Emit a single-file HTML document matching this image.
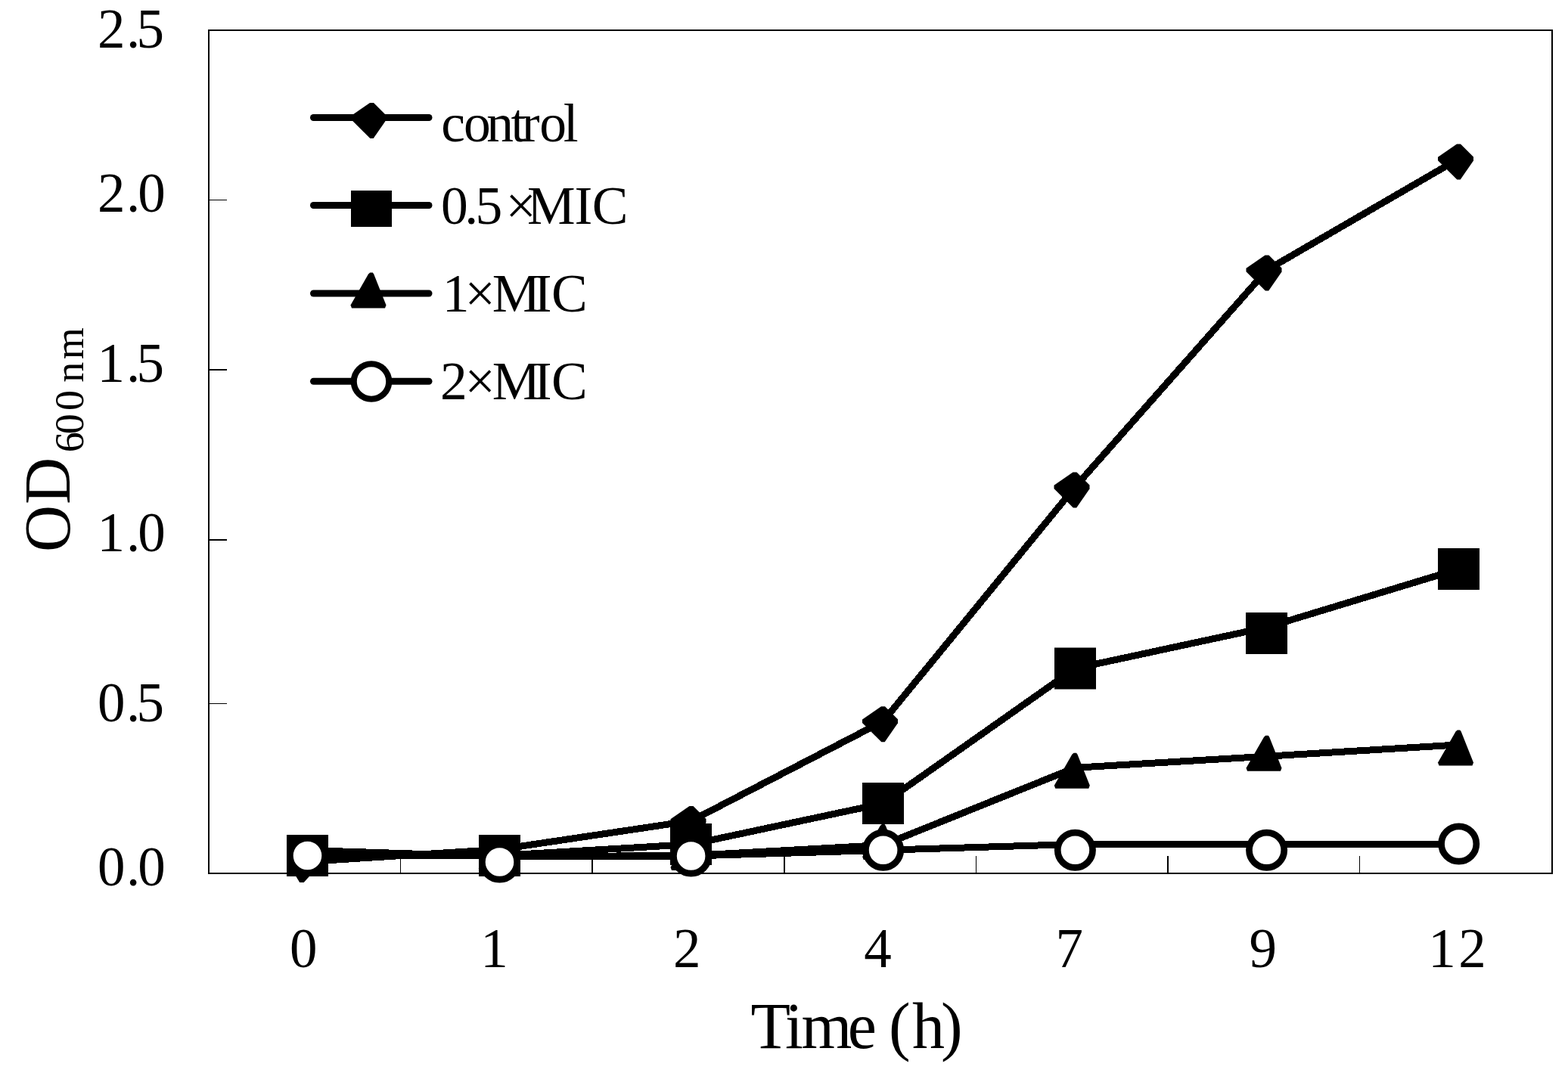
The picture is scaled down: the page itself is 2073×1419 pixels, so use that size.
<!DOCTYPE html><html><head><meta charset="utf-8"><title>OD600 growth curve</title>
<style>html,body{margin:0;padding:0;background:#fff;overflow:hidden;width:2073px;height:1419px;}svg{display:block;}text{font-family:'Liberation Serif', 'Times New Roman', serif;fill:#000;}</style></head><body>
<svg width="2073" height="1419" viewBox="0 0 2073 1419">
<rect x="0" y="0" width="2073" height="1419" fill="#fff"/>
<rect x="276" y="40" width="1776" height="1115" fill="none" stroke="#000" stroke-width="2"/>
<line x1="277" y1="264.5" x2="300" y2="264.5" stroke="#000" stroke-width="1"/>
<line x1="277" y1="489" x2="300" y2="489" stroke="#000" stroke-width="2"/>
<line x1="277" y1="714" x2="300" y2="714" stroke="#000" stroke-width="2"/>
<line x1="277" y1="930.5" x2="300" y2="930.5" stroke="#000" stroke-width="1"/>
<line x1="529.5" y1="1132" x2="529.5" y2="1154" stroke="#000" stroke-width="1"/>
<line x1="783" y1="1132" x2="783" y2="1154" stroke="#000" stroke-width="2"/>
<line x1="1037" y1="1132" x2="1037" y2="1154" stroke="#000" stroke-width="2"/>
<line x1="1290.5" y1="1132" x2="1290.5" y2="1154" stroke="#000" stroke-width="1"/>
<line x1="1544" y1="1132" x2="1544" y2="1154" stroke="#000" stroke-width="2"/>
<line x1="1797.5" y1="1132" x2="1797.5" y2="1154" stroke="#000" stroke-width="1"/>
<text x="128.9 166.9 180.5" y="63.0" font-size="73">2.5</text>
<text x="128.9 166.9 182.2" y="280.0" font-size="73">2.0</text>
<text x="128.4 166.9 180.5" y="505.0" font-size="73">1.5</text>
<text x="128.4 166.9 182.2" y="729.0" font-size="73">1.0</text>
<text x="128.9 166.9 180.5" y="954.2" font-size="73">0.5</text>
<text x="128.9 166.9 182.2" y="1171.3" font-size="73">0.0</text>
<text x="383.1" y="1279.2" font-size="73">0</text>
<text x="635.2" y="1279.2" font-size="73">1</text>
<text x="890.1" y="1279.2" font-size="73">2</text>
<text x="1142.2" y="1279.2" font-size="73">4</text>
<text x="1395.6" y="1279.2" font-size="73">7</text>
<text x="1651.6" y="1279.2" font-size="73">9</text>
<text x="1888.2 1928.2" y="1279.2" font-size="73">12</text>
<text x="992.6 1038.0 1059.4 1120.7 1158.6 1175.1 1206.1 1244.1" y="1385.8" font-size="86">Time (h)</text>
<g transform="rotate(-90)">
<text x="-730.1 -667.1" y="92" font-size="86">OD</text>
<text x="-598.3 -574.2 -542.9 -516.0 -505.7 -475.3" y="110" font-size="54">600 nm</text>
</g>
<g shape-rendering="crispEdges">
<polyline points="406.9,1139.4 660.5,1123.3 914.0,1085.5 1167.7,953.8 1421.3,644.0 1675.0,357.0 1928.5,210.0" fill="none" stroke="#000" stroke-width="9" stroke-linejoin="round" stroke-linecap="butt"/>
<polyline points="406.9,1131.5 660.5,1131.5 914.0,1116.5 1167.7,1062.5 1421.3,884.0 1675.0,829.5 1928.5,752.5" fill="none" stroke="#000" stroke-width="9" stroke-linejoin="round" stroke-linecap="butt"/>
<polyline points="406.9,1124.5 660.5,1132.8 914.0,1131.5 1167.7,1117.5 1421.3,1015.3 1675.0,1000.2 1928.5,984.9" fill="none" stroke="#000" stroke-width="9" stroke-linejoin="round" stroke-linecap="butt"/>
<polyline points="406.9,1131.5 660.5,1132.0 914.0,1132.0 1167.7,1124.3 1421.3,1116.5 1675.0,1116.3 1928.5,1116.0" fill="none" stroke="#000" stroke-width="9" stroke-linejoin="round" stroke-linecap="butt"/>
</g>
<g>
<polygon points="399,1120 426.5,1139.5 401.7,1167 396.2,1167 379.5,1139.5" fill="#000"/>
<polygon points="658.0,1105.0 663.0,1105.0 680.0,1122.0 680.0,1127.0 662.7,1152.0 658.3,1152.0 633.0,1126.7 633.0,1122.3" fill="#000"/>
<polygon points="911.5,1066.0 916.5,1066.0 933.5,1083.0 933.5,1088.0 916.2,1113.0 911.8,1113.0 886.5,1087.7 886.5,1083.3" fill="#000"/>
<polygon points="1165.0,934.2 1170.0,934.2 1187.0,951.2 1187.0,956.2 1169.7,981.2 1165.3,981.2 1140.0,956.0 1140.0,951.5" fill="#000"/>
<polygon points="1418.5,624.5 1423.5,624.5 1440.5,641.5 1440.5,646.5 1423.2,671.5 1418.8,671.5 1393.5,646.2 1393.5,641.8" fill="#000"/>
<polygon points="1672.5,337.5 1677.5,337.5 1694.5,354.5 1694.5,359.5 1677.2,384.5 1672.8,384.5 1647.5,359.2 1647.5,354.8" fill="#000"/>
<polygon points="1926.0,190.5 1931.0,190.5 1948.0,207.5 1948.0,212.5 1930.7,237.5 1926.3,237.5 1901.0,212.2 1901.0,207.8" fill="#000"/>
<rect x="379" y="1104" width="55" height="55" fill="#000"/>
<rect x="633" y="1104" width="55" height="55" fill="#000"/>
<rect x="886" y="1089" width="55" height="55" fill="#000"/>
<rect x="1140" y="1035" width="55" height="55" fill="#000"/>
<rect x="1394" y="856.5" width="55" height="55" fill="#000"/>
<rect x="1647" y="810" width="55" height="55" fill="#000"/>
<rect x="1901" y="725" width="55" height="55" fill="#000"/>
<polygon points="402.9,1107.0 405.1,1105.0 408.7,1105.0 410.1,1107.0 426.4,1148.0 424.9,1152.0 380.9,1152.0 379.4,1148.0" fill="#000"/>
<polygon points="656.5,1107.3 658.7,1105.3 662.3,1105.3 663.7,1107.3 680.0,1148.3 678.5,1152.3 634.5,1152.3 633.0,1148.3" fill="#000"/>
<polygon points="910.0,1106.0 912.2,1104.0 915.8,1104.0 917.2,1106.0 933.5,1147.0 932.0,1151.0 888.0,1151.0 886.5,1147.0" fill="#000"/>
<polygon points="1163.7,1092.0 1165.9,1090.0 1169.5,1090.0 1170.9,1092.0 1187.2,1133.0 1185.7,1137.0 1141.7,1137.0 1140.2,1133.0" fill="#000"/>
<polygon points="1417.3,997.8 1419.5,995.8 1423.1,995.8 1424.5,997.8 1440.8,1038.8 1439.3,1042.8 1395.3,1042.8 1393.8,1038.8" fill="#000"/>
<polygon points="1671.0,974.7 1673.2,972.7 1676.8,972.7 1678.2,974.7 1694.5,1015.7 1693.0,1019.7 1649.0,1019.7 1647.5,1015.7" fill="#000"/>
<polygon points="1924.5,967.4 1926.7,965.4 1930.3,965.4 1931.7,967.4 1948.0,1008.4 1946.5,1012.4 1902.5,1012.4 1901.0,1008.4" fill="#000"/>
<circle cx="406.5" cy="1131.5" r="23.15" fill="#fff" stroke="#000" stroke-width="8.70"/>
<circle cx="660.5" cy="1140" r="23.15" fill="#fff" stroke="#000" stroke-width="8.70"/>
<circle cx="913.6" cy="1132" r="23.15" fill="#fff" stroke="#000" stroke-width="8.70"/>
<circle cx="1167.6" cy="1124.2" r="23.15" fill="#fff" stroke="#000" stroke-width="8.70"/>
<circle cx="1421.4" cy="1124.3" r="23.15" fill="#fff" stroke="#000" stroke-width="8.70"/>
<circle cx="1674.6" cy="1124.3" r="23.15" fill="#fff" stroke="#000" stroke-width="8.70"/>
<circle cx="1928.7" cy="1116" r="23.15" fill="#fff" stroke="#000" stroke-width="8.70"/>
</g>
<line x1="414.5" y1="155.5" x2="567" y2="155.5" stroke="#000" stroke-width="9" stroke-linecap="round"/>
<line x1="414.5" y1="271.5" x2="567" y2="271.5" stroke="#000" stroke-width="9" stroke-linecap="round"/>
<line x1="414.5" y1="388.0" x2="567" y2="388.0" stroke="#000" stroke-width="9" stroke-linecap="round"/>
<line x1="414.5" y1="504.2" x2="567" y2="504.2" stroke="#000" stroke-width="9" stroke-linecap="round"/>
<polygon points="489.0,136.0 494.0,136.0 511.0,153.0 511.0,158.0 493.7,183.0 489.3,183.0 464.0,157.7 464.0,153.3" fill="#000"/>
<rect x="464" y="252" width="54" height="48" fill="#000"/>
<polygon points="487.0,362.5 489.2,360.5 492.8,360.5 494.2,362.5 510.5,403.5 509.0,407.5 465.0,407.5 463.5,403.5" fill="#000"/>
<circle cx="491.0" cy="504.5" r="23.25" fill="#fff" stroke="#000" stroke-width="8.10"/>
<text x="583.2 612.9 643.3 675.4 689.7 713.2 744.7" y="187.1" font-size="71.5">control</text>
<text x="583.0 614.2 628.5 668.4 697.1 759.4 782.8" y="295.8" font-size="71.5">0.5×MIC</text>
<text x="584.8 614.5 650.7 705.8 728.9" y="411.5" font-size="71.5">1×MIC</text>
<text x="581.9 614.5 650.7 705.8 728.9" y="527.7" font-size="71.5">2×MIC</text>
</svg></body></html>
